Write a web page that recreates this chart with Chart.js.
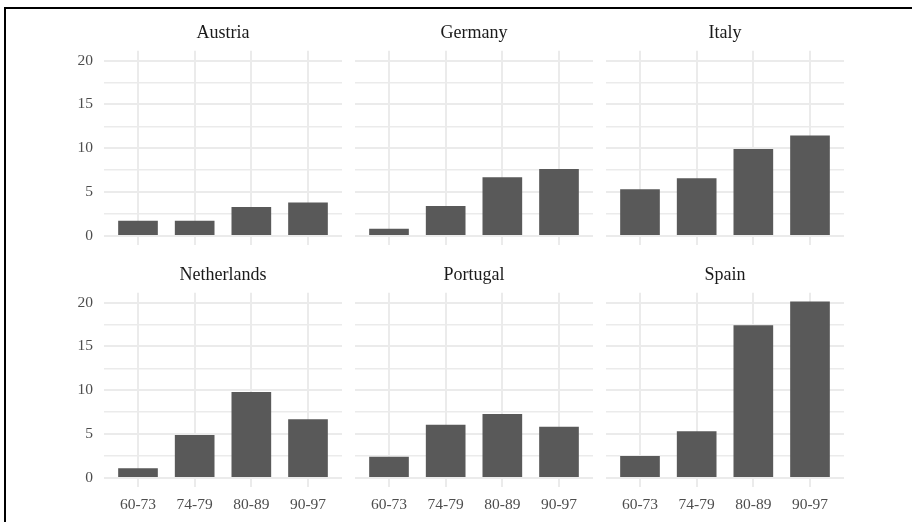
<!DOCTYPE html>
<html>
<head>
<meta charset="utf-8">
<script src="https://cdn.jsdelivr.net/npm/chart.js@4"></script>
<style>
  html, body { margin: 0; padding: 0; background: #fff; }
  #page { position: relative; width: 912px; height: 522px; overflow: hidden; background: #fff; }
  #page canvas { position: absolute; left: 0; top: 0; }
  #frame { position: absolute; left: 4px; top: 7px; width: 1000px; height: 1000px;
           border-top: 2px solid #000; border-left: 2px solid #000; box-sizing: border-box; }
</style>
</head>
<body>
<div id="page">
  <div id="frame"></div>
</div>
<script>
// Periods on the x axis and one series per country
const periods = ['60-73', '74-79', '80-89', '90-97'];
const countries = ['Austria', 'Germany', 'Italy', 'Netherlands', 'Portugal', 'Spain'];
const austria = [1.72, 1.72, 3.29, 3.82];
const germany = [0.80, 3.40, 6.69, 7.64];
const italy = [5.31, 6.57, 9.90, 11.46];
const netherlands = [1.10, 4.90, 9.81, 6.70];
const portugal = [2.40, 6.05, 7.30, 5.82];
const spain = [2.51, 5.32, 17.42, 20.12];
const yMajorTicks = [0, 5, 10, 15, 20];
const yMinorTicks = [2.5, 7.5, 12.5, 17.5];

const seriesList = [austria, germany, italy, netherlands, portugal, spain];

// Shared y range: data range padded by 5% on each side
const allValues = seriesList.flat();
const yMaxData = Math.max(...allValues);
const yPad = 0.05 * yMaxData;
const yMin = 0 - yPad;
const yMax = yMaxData + yPad;

// Panel geometry (plot area of each facet)
const PAGE_W = 912, PAGE_H = 522;
const colLeft = [104, 355, 606];
const rowTop = [50.7, 292.7];
const panelW = 238, panelH = 194;
const titleLine = 18 * 1.2, titlePadBottom = 6.5;

const SERIF = "'Liberation Serif', 'Times New Roman', serif";
const GRID = '#EBEBEB';
const BAR = '#595959';

const page = document.getElementById('page');

seriesList.forEach((values, idx) => {
  const col = idx % 3, row = Math.floor(idx / 3);
  const L = colLeft[col], R = L + panelW;
  const T = rowTop[row], B = T + panelH;
  const showY = col === 0;
  const showX = row === 1;
  const xAxisH = showX ? PAGE_H - B : 0;

  const canvas = document.createElement('canvas');
  canvas.width = PAGE_W; canvas.height = PAGE_H;
  canvas.style.width = PAGE_W + 'px'; canvas.style.height = PAGE_H + 'px';
  page.appendChild(canvas);

  new Chart(canvas, {
    type: 'bar',
    data: {
      datasets: [{
        data: values.map((v, i) => ({ x: i + 1, y: v })),
        backgroundColor: BAR,
        borderWidth: 0,
        barPercentage: 0.7,
        categoryPercentage: 1.0
      }]
    },
    options: {
      responsive: false,
      animation: false,
      devicePixelRatio: 1,
      layout: {
        padding: {
          left: showY ? 0 : L,
          right: PAGE_W - R,
          top: T - titleLine - titlePadBottom,
          bottom: showX ? 0 : PAGE_H - B
        }
      },
      plugins: {
        legend: { display: false },
        tooltip: { enabled: false },
        title: {
          display: true,
          fullSize: false,
          text: countries[idx],
          color: '#1A1A1A',
          font: { family: SERIF, size: 18, weight: 'normal', lineHeight: 1.2 },
          padding: { top: 0, bottom: titlePadBottom }
        }
      },
      scales: {
        x: {
          type: 'linear',
          offset: false,
          min: 0.4,
          max: periods.length + 0.6,
          afterBuildTicks: (scale) => { scale.ticks = periods.map((_, i) => ({ value: i + 1 })); },
          afterFit: (scale) => { scale.height = xAxisH; },
          border: { display: false },
          grid: { offset: false, color: GRID, lineWidth: 2, drawTicks: false },
          ticks: {
            display: showX,
            autoSkip: false,
            maxRotation: 0,
            padding: 9,
            color: '#4D4D4D',
            font: { family: SERIF, size: 15.5 },
            callback: (v) => periods[Math.round(v) - 1]
          }
        },
        y: {
          type: 'linear',
          min: yMin,
          max: yMax,
          afterBuildTicks: (scale) => {
            scale.ticks = [...yMajorTicks, ...yMinorTicks].sort((a, b) => a - b).map(v => ({ value: v }));
          },
          afterFit: (scale) => { scale.width = showY ? L : 0; },
          border: { display: false },
          grid: {
            drawTicks: false,
            color: GRID,
            lineWidth: (ctx) => yMajorTicks.includes(ctx.tick && ctx.tick.value) ? 2 : 1.4
          },
          ticks: {
            display: showY,
            autoSkip: false,
            padding: 11,
            color: '#4D4D4D',
            font: { family: SERIF, size: 15.5 },
            callback: (v) => yMajorTicks.includes(v) ? String(v) : ''
          }
        }
      }
    }
  });
});
</script>
</body>
</html>
